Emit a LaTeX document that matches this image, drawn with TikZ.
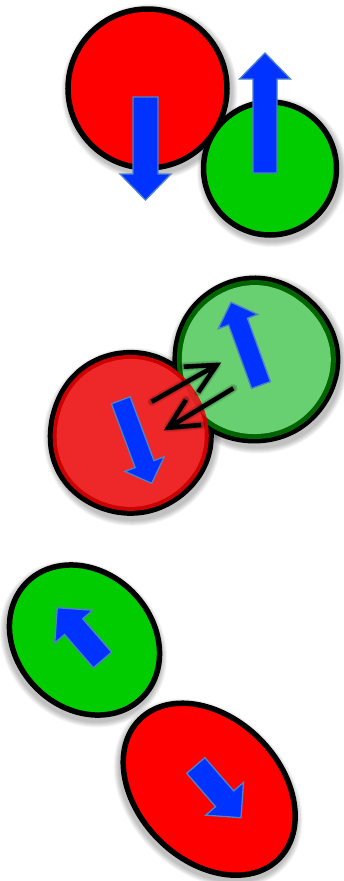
\documentclass[tikz,border=0pt]{standalone}
\usetikzlibrary{calc}
\definecolor{blueA}{RGB}{0,51,255}
\definecolor{blueE}{RGB}{80,130,200}
\definecolor{redA}{RGB}{255,0,0}
\definecolor{greenA}{RGB}{0,204,0}
\definecolor{redM}{RGB}{238,40,40}
\definecolor{redMd}{RGB}{204,0,0}
\definecolor{redMo}{RGB}{214,36,32}
\definecolor{greenM}{RGB}{104,208,112}
\definecolor{greenMd}{RGB}{0,100,0}
\tikzset{
  blockarrow/.style={fill=blueA, draw=blueE, line width=1.3pt, line join=miter},
  outl/.style={draw=black, line width=5.5pt},
  barrow/.style={draw=black, line width=4.6pt, line cap=butt, line join=miter},
  bshadow/.style={draw=black, opacity=0.10, line cap=round, line join=round},
}
% tail, tip, half shaft, half head, head length
\newcommand\blockarr[5]{%
  \coordinate (ba-B) at ($(#2)!#5!(#1)$);
  \path[blockarrow] ($(#1)!#3!90:(#2)$) -- ($(ba-B)!#3!90:(#2)$) -- ($(ba-B)!#4!90:(#2)$)
     -- (#2) -- ($(ba-B)!#4!-90:(#2)$) -- ($(ba-B)!#3!-90:(#2)$) -- ($(#1)!#3!-90:(#2)$) -- cycle;
}
% center, radius
\newcommand\softshadow[2]{%
  \foreach \k in {1,...,6} {\fill[black, opacity=0.045] ($(#1)+(2,3.5)$) circle[radius=#2+7-\k];}
}
% center, a, b
\newcommand\softshadowell[3]{%
  \foreach \k in {1,...,6} {\fill[black, opacity=0.045, rotate around={-45:(#1)}] ($(#1)+(2,3.5)$) ellipse[x radius=#2+7-\k, y radius=#3+7-\k];}
}
% hand-drawn disc: center, radius, phase, colour
\newcommand\wobdisc[4]{%
  \fill[#4, shift={(#1)}] plot[smooth cycle, variable=\t, domain=0:350, samples=36]
    ({(#2)*(1+0.009*sin(3*\t+#3)+0.004*sin(5*\t+2*#3))*cos(\t)},
     {(#2)*(1+0.009*sin(3*\t+#3)+0.004*sin(5*\t+2*#3))*sin(\t)});
}
% start, tip
\newcommand\openarr[2]{%
  \foreach \w in {5,7,9} {\draw[bshadow, line width=\w pt, shift={(2,3.5)}] (#1) -- (#2) ($(#2)!33pt!26.5:(#1)$) -- (#2) -- ($(#2)!33pt!-26.5:(#1)$);}
  \draw[barrow] (#1) -- (#2) ($(#2)!33pt!26.5:(#1)$) -- (#2) -- ($(#2)!33pt!-26.5:(#1)$);
}
\begin{document}
\begin{tikzpicture}[x=1pt,y=-1pt]
\useasboundingbox (0,0) rectangle (343,881);
\fill[white] (0,0) rectangle (343,881);

% ---------- top panel ----------
\coordinate (rc) at (147.5,88.5);
\coordinate (gc) at (270,168.5);
\softshadow{rc}{82}
\draw[outl, fill=redA] (rc) circle[radius=79.5];
\coordinate (t1) at (145.5,97);
\coordinate (p1) at (145.5,200);
\blockarr{t1}{p1}{12.5pt}{25.5pt}{26pt}
\softshadow{gc}{69}
\draw[outl, fill=greenA] (gc) circle[radius=66.5];
\coordinate (t2) at (265,173);
\coordinate (p2) at (265,53);
\blockarr{t2}{p2}{12pt}{25.5pt}{26pt}

% ---------- middle panel ----------
\coordinate (mr) at (130.3,433.3);
\coordinate (mg) at (255.5,360);
\softshadow{mr}{83}
\softshadow{mg}{84}
\wobdisc{mr}{83}{20}{black}
\wobdisc{mg}{84}{70}{black}
\wobdisc{mg}{79.5}{70}{greenMd}
\wobdisc{mg}{74.5}{70}{greenM}
\wobdisc{mr}{78}{20}{redMd}
\wobdisc{mr}{74}{20}{redM}
\begin{scope}
  \clip[shift={(mg)}] plot[smooth cycle, variable=\t, domain=0:350, samples=36]
    ({74.5*(1+0.009*sin(3*\t+70)+0.004*sin(5*\t+140))*cos(\t)},
     {74.5*(1+0.009*sin(3*\t+70)+0.004*sin(5*\t+140))*sin(\t)});
  \wobdisc{mr}{78}{20}{redMo}
\end{scope}
\coordinate (t3) at (261,385);
\coordinate (p3) at (231,302.3);
\blockarr{t3}{p3}{10pt}{21pt}{20.5pt}
\coordinate (t4) at (120.8,400.3);
\coordinate (p4) at (151.7,483.3);
\blockarr{t4}{p4}{10pt}{21pt}{20.5pt}
\coordinate (a1s) at (151.7,401.7);
\coordinate (a1t) at (216.7,365);
\coordinate (a2s) at (233.3,388.3);
\coordinate (a2t) at (168.3,427.7);
\openarr{a1s}{a1t}
\openarr{a2s}{a2t}

% ---------- bottom panel ----------
\coordinate (eg) at (84.5,640);
\coordinate (er) at (209.2,789.2);
\softshadowell{eg}{84}{70.5}
\draw[outl, fill=greenA, rotate around={-45:(eg)}] (eg) ellipse[x radius=81.5, y radius=68];
\coordinate (t5) at (102.5,660);
\coordinate (p5) at (57.3,607.7);
\blockarr{t5}{p5}{12pt}{25pt}{25pt}
\softshadowell{er}{101}{73.8}
\draw[outl, fill=redA, rotate around={-45:(er)}] (er) ellipse[x radius=98.5, y radius=71.3];
\coordinate (t6) at (195.8,765.5);
\coordinate (p6) at (241,817.7);
\blockarr{t6}{p6}{12pt}{25pt}{25pt}
\end{tikzpicture}
\end{document}
